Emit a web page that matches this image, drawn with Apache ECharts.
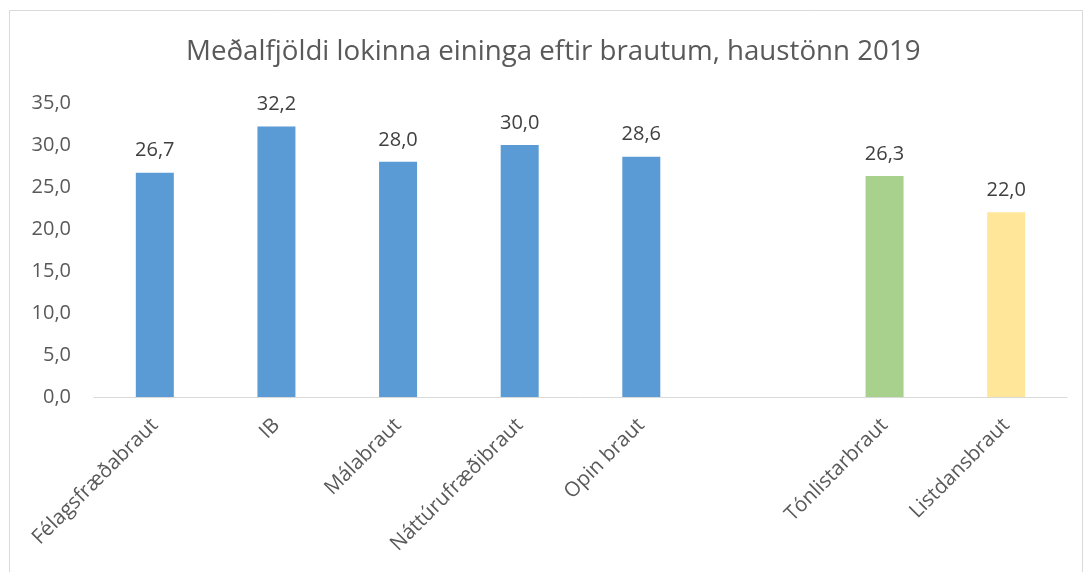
<!DOCTYPE html>
<html><head><meta charset="utf-8">
<script src="https://cdn.jsdelivr.net/npm/echarts@6/dist/echarts.min.js"></script>
<style>html,body{margin:0;padding:0;background:#fff}#c{width:1084px;height:572px}</style>
</head><body><div id="c"></div>
<script>
const titleText = 'Meðalfjöldi lokinna eininga eftir brautum, haustönn 2019';
const categories = ['Félagsfræðabraut','IB','Málabraut','Náttúrufræðibraut','Opin braut','','Tónlistarbraut','Listdansbraut'];
const values = [26.7, 32.2, 28.0, 30.0, 28.6, null, 26.3, 22.0];
const barColors = ['#5B9BD5','#5B9BD5','#5B9BD5','#5B9BD5','#5B9BD5','#5B9BD5','#A9D18E','#FFE699'];
const yMin = 0, yMax = 35, yStep = 5;

const fmt = v => v.toFixed(1).replace('.', ',');
const font = '"Open Sans", "Noto Sans", sans-serif';
const chart = echarts.init(document.getElementById('c'), null, {renderer:'canvas'});
chart.setOption({
  animation:false,
  backgroundColor:'#fff',
  graphic:[{type:'rect', shape:{x:9.5,y:10.5,width:1073,height:580}, style:{fill:'none', stroke:'#d9d9d9', lineWidth:1}, silent:true}],
  title:{text:titleText, left:181, top:33, textStyle:{fontFamily:font, fontSize:27.7, fontWeight:'normal', color:'#595959'}},
  grid:{left:94, right:17, top:103, height:294, containLabel:false},
  xAxis:{type:'category', data:categories,
    axisLine:{lineStyle:{color:'#d9d9d9', width:1}}, axisTick:{show:false},
    axisLabel:{rotate:45, interval:0, margin:25, fontFamily:font, fontSize:20.5, color:'#595959'}},
  yAxis:{type:'value', min:yMin, max:yMax, interval:yStep,
    splitLine:{show:false}, axisLine:{show:false}, axisTick:{show:false},
    axisLabel:{formatter:v=>fmt(v), margin:23, fontFamily:font, fontSize:20, color:'#595959'}},
  series:[{type:'bar', barWidth:38,
    data: values.map((v,i)=> v===null ? '-' : {value:v, itemStyle:{color:barColors[i]}}),
    label:{show:true, position:'top', distance:12, formatter:p=>fmt(p.value), fontFamily:font, fontSize:20, color:'#404040'}
  }]
});
</script></body></html>
